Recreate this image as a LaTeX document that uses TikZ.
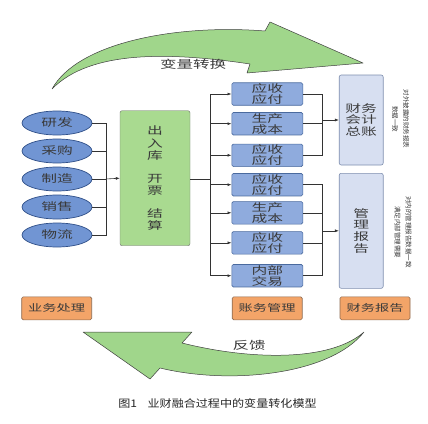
\documentclass[tikz,border=0pt]{standalone}
\usepackage{fontspec}
\newfontfamily\cjk[FakeStretch=1.5]{Noto Sans CJK SC}
\newfontfamily\cjkcap[FakeStretch=1.15]{Noto Sans CJK SC}
\newfontfamily\cjknote{Noto Sans CJK SC}
\usetikzlibrary{shapes.geometric,arrows.meta}
\definecolor{arrgreen}{HTML}{A0D68B}
\definecolor{boxgreen}{HTML}{A9DA90}
\definecolor{ellblue}{HTML}{7195D3}
\definecolor{ellborder}{HTML}{2F4F88}
\definecolor{midblue}{HTML}{8FABDD}
\definecolor{midborder}{HTML}{4A6A9E}
\definecolor{lightblue}{HTML}{D7DFF1}
\definecolor{lightborder}{HTML}{7F8FAF}
\definecolor{orangefill}{HTML}{F3A468}
\definecolor{orangeborder}{HTML}{8C6A50}
\definecolor{txtgray}{HTML}{3A3A3A}
\tikzset{
  x=1pt,y=-1pt,
  bigarrow/.style={fill=arrgreen,draw=black!75,line width=0.5pt,line join=round},
  dept/.style={ellipse,draw=ellborder,fill=ellblue,line width=0.7pt,minimum width=70pt,minimum height=24pt,inner sep=0pt,font=\cjk\fontsize{10.5}{11}\selectfont,text=txtgray},
  greenbox/.style={draw=black!55,fill=boxgreen,rounded corners=2pt,minimum width=70pt,minimum height=135pt,inner sep=0pt,align=center,font=\cjk\fontsize{10.5}{12.3}\selectfont,text=txtgray},
  acct/.style={draw=midborder,fill=midblue,rounded corners=1.5pt,line width=0.6pt,minimum width=71pt,minimum height=22.5pt,inner sep=0pt,align=center,font=\cjk\fontsize{10.5}{10.7}\selectfont,text=txtgray},
  report/.style={draw=lightborder,fill=lightblue,rounded corners=2pt,line width=0.6pt,minimum width=44pt,inner sep=0pt,align=center,font=\cjk\fontsize{10.5}{11.7}\selectfont,text=txtgray},
  tag/.style={draw=orangeborder,fill=orangefill,rounded corners=1.5pt,line width=0.6pt,minimum width=70pt,minimum height=23pt,inner sep=0pt,font=\cjk\fontsize{9.5}{10}\selectfont,text=txtgray},
  note/.style={rotate=-90,align=center,inner sep=0pt,font=\cjknote\fontsize{6.5}{11}\selectfont,text=txtgray},
  conn/.style={draw=black!80,line width=0.6pt},
  connarrow/.style={conn,-{Latex[length=4pt,width=3pt]}},
}
\begin{document}
\begin{tikzpicture}
\useasboundingbox (0,0) rectangle (428,423);
\fill[white] (0,0) rectangle (428,423);

% top curved arrow
\draw[bigarrow] (52,89) .. controls (78,42) and (178,24) .. (265,31)
  -- (270,22) -- (363,63) -- (247,73) -- (250,64)
  .. controls (170,52) and (90,50) .. (52,89) -- cycle;
\node[font=\cjk\fontsize{11}{11}\selectfont,text=txtgray] (lbltop) at (193,64) {变量转换};

% bottom curved arrow
\draw[bigarrow] (364,332) .. controls (330,362) and (250,360) .. (182,343)
  -- (192,332) -- (83,332) -- (150,379) -- (160,368)
  .. controls (230,385) and (330,375) .. (364,332) -- cycle;
\node[font=\cjk\fontsize{11}{11}\selectfont,text=txtgray] (lblbot) at (249,345) {反馈};

% departments
\node[dept] (e1) at (57,123) {研发};
\node[dept] (e2) at (57,151) {采购};
\node[dept] (e3) at (57,179) {制造};
\node[dept] (e4) at (57,207) {销售};
\node[dept] (e5) at (57,235) {物流};

% green box
\node[greenbox] (g) at (155,178.2) {出\\入\\库\\[10.5pt]开\\票\\[10.5pt]结\\算};

% accounting boxes
\node[acct] (b1) at (267.3,94) {应收\\应付};
\node[acct] (b2) at (267.3,123.7) {生产\\成本};
\node[acct] (b3) at (267.3,155.3) {应收\\应付};
\node[acct] (b4) at (267.3,184.7) {应收\\应付};
\node[acct] (b5) at (267.3,212.8) {生产\\成本};
\node[acct] (b6) at (267.3,242.8) {应收\\应付};
\node[acct] (b7) at (267.3,275.7) {内部\\交易};

% report boxes
\node[report,minimum height=90pt] (fa) at (361.2,120) {财务\\会计\\总账};
\node[report,minimum height=115pt] (mr) at (361.2,230.8) {管\\理\\报\\告};

% notes
\node[note] (n1) at (400.5,119) {对外披露的财务报表\\数据一致};
\node[note] (n2) at (403,232) {对内的管理报告数据一致\\满足内部管理需要};

% tags
\node[tag] (t1) at (56.7,308.3) {业务处理};
\node[tag] (t2) at (267.2,308.3) {账务管理};
\node[tag] (t3) at (375,308.3) {财务报告};

% connectors
\coordinate (j1) at (106,179);
\foreach \i in {1,...,5} { \draw[conn] (e\i.east) -| (j1); }
\draw[connarrow] (j1) -- (g.west);

\coordinate (j2) at (210.5,179);
\draw[conn] (g.east |- j2) -- (j2);
\foreach \i in {1,...,7} { \draw[connarrow] (j2) |- (b\i.west); }

\coordinate (j3) at (322,120);
\foreach \i in {1,...,3} { \draw[conn] (b\i.east) -| (j3); }
\draw[connarrow] (j3) -- (fa.west);

\coordinate (j4) at (322,230.8);
\foreach \i in {4,...,7} { \draw[conn] (b\i.east) -| (j4); }
\draw[connarrow] (j4) -- (mr.west);

% caption
\node[font=\cjkcap\fontsize{10.5}{11}\selectfont,text=black!85] (cap) at (217.5,403) {图1\hspace{1em}业财融合过程中的变量转化模型};
\end{tikzpicture}
\end{document}
